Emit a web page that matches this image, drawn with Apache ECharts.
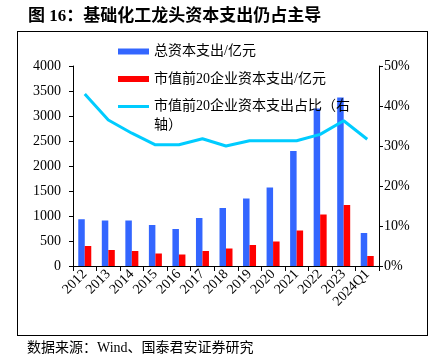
<!DOCTYPE html>
<html>
<head>
<meta charset="utf-8">
<script src="https://cdn.jsdelivr.net/npm/echarts@6/dist/echarts.min.js"></script>
<style>
html,body{margin:0;padding:0;background:#fff;}
#chart{width:429px;height:357px;}
</style>
</head>
<body>
<div id="chart"></div>
<script>
var categories = ['2012','2013','2014','2015','2016','2017','2018','2019','2020','2021','2022','2023','2024Q1'];
var totalCapex = [935, 910, 910, 820, 740, 960, 1160, 1350, 1570, 2300, 3150, 3370, 660];
var top20Capex = [400, 320, 300, 250, 230, 300, 350, 420, 490, 710, 1030, 1220, 200];
var top20Share = [43.0, 36.5, 33.2, 30.3, 30.3, 31.8, 30.0, 31.3, 31.3, 31.3, 32.9, 36.3, 31.7];
var leftTicks = {min: 0, max: 4000, interval: 500};
var rightTicks = {min: 0, max: 50, interval: 10};
var seriesNames = ['总资本支出/亿元', '市值前20企业资本支出/亿元', '市值前20企业资本支出占比（右轴）'];

var serif = "'Liberation Serif', 'DejaVu Serif', 'Noto Sans CJK SC', serif";
var chart = echarts.init(document.getElementById('chart'), null, {renderer: 'canvas'});
chart.setOption({
  animation: false,
  backgroundColor: '#fff',
  textStyle: {fontFamily: serif, color: '#000'},
  title: {
    text: '图 16：基础化工龙头资本支出仍占主导',
    left: 28, top: 8, padding: 0,
    textStyle: {fontFamily: serif, fontSize: 17, fontWeight: 'bold', color: '#000'}
  },
  graphic: [
    {type: 'line', shape: {x1: 17, y1: 31.5, x2: 428, y2: 31.5}, style: {stroke: '#000', lineWidth: 1}},
    {type: 'line', shape: {x1: 17.5, y1: 31, x2: 17.5, y2: 335}, style: {stroke: '#000', lineWidth: 1}},
    {type: 'line', shape: {x1: 427.5, y1: 31, x2: 427.5, y2: 335}, style: {stroke: '#000', lineWidth: 1}},
    {type: 'line', shape: {x1: 17, y1: 335.5, x2: 428, y2: 335.5}, style: {stroke: '#000', lineWidth: 1}},
    {type: 'text', left: 154, top: 118, z: 10, style: {text: '轴）', font: '14px ' + serif, fill: '#000'}},
    {type: 'text', left: 27, top: 341, style: {text: '数据来源：Wind、国泰君安证券研究', font: '14px ' + serif, fill: '#000'}}
  ],
  legend: {
    orient: 'vertical',
    left: 118, top: 43.5, padding: 0,
    itemWidth: 31, itemHeight: 6,
    itemGap: 11.5,
    z: 10,
    textStyle: {fontFamily: serif, fontSize: 14, color: '#000', lineHeight: 16},
    formatter: function (name) {
      return name === seriesNames[2] ? '市值前20企业资本支出占比（右' : name;
    },
    data: [
      {name: seriesNames[0], icon: 'rect'},
      {name: seriesNames[1], icon: 'rect'},
      {name: seriesNames[2], icon: 'path://M0,0H31V3H0Z'}
    ]
  },
  grid: {left: 73, right: 50, top: 66, bottom: 91},
  xAxis: {
    type: 'category',
    data: categories,
    axisLine: {lineStyle: {color: '#000'}},
    axisTick: {show: true, length: 5, lineStyle: {color: '#000'}},
    axisLabel: {rotate: 45, fontSize: 14, color: '#000', fontFamily: serif, margin: 6, interval: 0}
  },
  yAxis: [
    {
      type: 'value', min: leftTicks.min, max: leftTicks.max, interval: leftTicks.interval,
      axisLine: {show: true, lineStyle: {color: '#000'}},
      axisTick: {show: true, length: 4, lineStyle: {color: '#000'}},
      axisLabel: {fontSize: 14, color: '#000', fontFamily: serif, margin: 12, formatter: function (v) { return String(v); }},
      splitLine: {show: false}
    },
    {
      type: 'value', min: rightTicks.min, max: rightTicks.max, interval: rightTicks.interval,
      axisLine: {show: true, lineStyle: {color: '#000'}},
      axisTick: {show: true, length: 4, lineStyle: {color: '#000'}},
      axisLabel: {fontSize: 14, color: '#000', fontFamily: serif, margin: 5, formatter: '{value}%'},
      splitLine: {show: false}
    }
  ],
  series: [
    {name: seriesNames[0], type: 'bar', data: totalCapex, barWidth: 6.5, barGap: '0%', itemStyle: {color: '#3366FF'}},
    {name: seriesNames[1], type: 'bar', data: top20Capex, barWidth: 6.5, barGap: '0%', itemStyle: {color: '#FF0000'}},
    {name: seriesNames[2], type: 'line', yAxisIndex: 1, data: top20Share, symbol: 'none', lineStyle: {color: '#00CCFF', width: 3}, itemStyle: {color: '#00CCFF'}}
  ]
});
</script>
</body>
</html>
